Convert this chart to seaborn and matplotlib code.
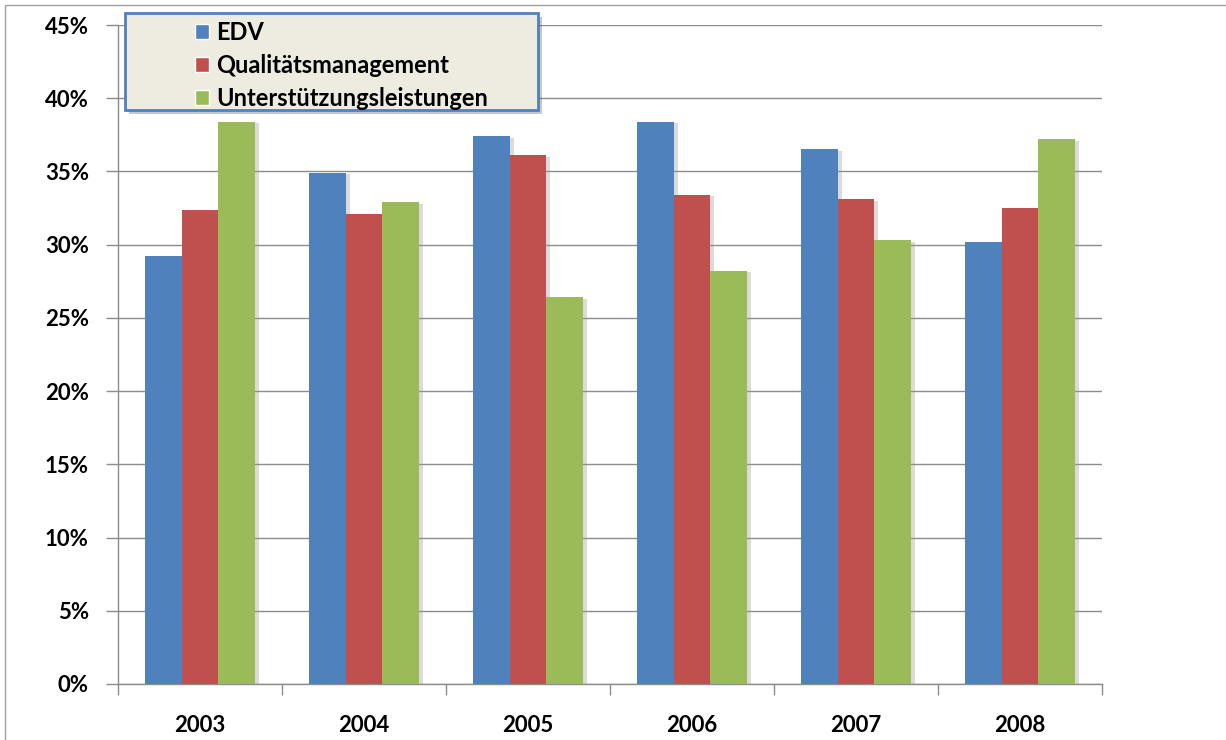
import pandas as pd
import matplotlib
matplotlib.use("Agg")
import matplotlib.pyplot as plt
import matplotlib.patheffects as pe
from matplotlib.patches import Rectangle
from matplotlib.ticker import MultipleLocator, PercentFormatter
import seaborn as sns

# values (percent)
years = ["2003", "2004", "2005", "2006", "2007", "2008"]
edv = [29.2, 34.9, 37.4, 38.4, 36.5, 30.2]
qualitaet = [32.4, 32.1, 36.1, 33.4, 33.1, 32.5]
unterstuetzung = [38.4, 32.9, 26.4, 28.2, 30.3, 37.2]
series_names = ["EDV", "Qualitätsmanagement", "Unterstützungsleistungen"]
colors = ["#4F81BD", "#C0504D", "#9BBB59"]

df = pd.DataFrame({
    "Jahr": years * 3,
    "Wert": edv + qualitaet + unterstuetzung,
    "Bereich": [s for s in series_names for _ in years],
})

sns.set_style("white")
plt.rcParams["font.family"] = ["Lato", "DejaVu Sans"]
plt.rcParams["font.weight"] = "bold"
plt.rcParams["text.color"] = "black"
plt.rcParams["xtick.color"] = "black"
plt.rcParams["ytick.color"] = "black"

fig = plt.figure(figsize=(12.26, 7.40), dpi=100)
ax = fig.add_axes([118 / 1226, 1 - 684 / 740, (1102 - 118) / 1226, (684 - 25) / 740])

sns.barplot(data=df, x="Jahr", y="Wert", hue="Bereich", palette=colors,
            width=0.67, gap=0, saturation=1, linewidth=0, ax=ax, legend=False, zorder=3)

# soft shadow on the bars like the original
for bar in ax.patches:
    bar.set_linewidth(0)
    bar.set_path_effects([pe.SimplePatchShadow(offset=(3, -1), shadow_rgbFace="#9a9a9a", alpha=0.35),
                          pe.Normal()])

ax.set_ylim(0, 45)
ax.set_xlim(-0.5, 5.5)
ax.yaxis.set_major_locator(MultipleLocator(5))
ax.yaxis.set_major_formatter(PercentFormatter(decimals=0))
ax.grid(axis="y", color="#8c8c8c", linewidth=1, zorder=0)
ax.set_axisbelow(True)
ax.set_xlabel("")
ax.set_ylabel("")

for side in ["top", "right"]:
    ax.spines[side].set_visible(False)
for side in ["left", "bottom"]:
    ax.spines[side].set_color("#8c8c8c")
    ax.spines[side].set_linewidth(1)

# category boundary ticks on x
ax.set_xticks(range(len(years)))
ax.set_xticklabels(years, fontsize=16, fontweight="bold")
ax.set_xticks([i - 0.5 for i in range(len(years) + 1)], minor=True)
ax.tick_params(axis="x", which="major", length=0, pad=22)
ax.tick_params(axis="x", which="minor", length=8, color="#8c8c8c", width=1, bottom=True)
ax.tick_params(axis="y", length=9, color="#8c8c8c", width=1, left=True, labelsize=16, labelcolor="black", pad=12)
for lab in ax.get_yticklabels():
    lab.set_fontweight("bold")

# legend box
box = Rectangle((125 / 1226, 1 - 110 / 740), (538 - 125) / 1226, (110 - 13) / 740,
                transform=fig.transFigure, facecolor="#EEECE1", edgecolor="#4F81BD",
                linewidth=2, zorder=5,
                path_effects=[pe.SimplePatchShadow(offset=(3, -3), alpha=0.3), pe.Normal()])
fig.patches.append(box)
handles = [Rectangle((0, 0), 1, 1, facecolor=c) for c in colors]
leg = fig.legend(handles, series_names, loc="upper left",
                 bbox_to_anchor=(176 / 1226, 1 - 2 / 740), frameon=False,
                 handlelength=0.6, handleheight=0.6, handletextpad=0.3,
                 labelspacing=0.42, borderpad=0.3, prop={"size": 17, "weight": "bold"})
leg.set_zorder(6)

# outer frame of the picture
frame = Rectangle((5 / 1226, -0.01), 1.2, 1 - 5 / 740 + 0.01, transform=fig.transFigure,
                  facecolor="none", edgecolor="#a0a0a0", linewidth=1, zorder=0)
fig.patches.append(frame)

fig.savefig("out.png", dpi=100)
